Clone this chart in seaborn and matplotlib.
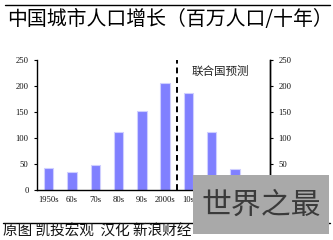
import matplotlib
matplotlib.use("Agg")
import matplotlib.pyplot as plt
import seaborn as sns
import pandas as pd
from matplotlib.patches import Rectangle
from matplotlib.lines import Line2D

decades = ["1950s", "60s", "70s", "80s", "90s", "2000s", "10s", "20s", "30s", "40s"]
growth = [42, 35, 48, 112, 152, 205, 186, 111, 41, 8]
yticks = [0, 50, 100, 150, 200, 250]
title = "中国城市人口增长（百万人口/十年）"
note = "联合国预测"
footer = "原图 凯投宏观  汉化 新浪财经"
watermark = "世界之最"

sns.set_theme(style="white")
plt.rcParams['font.family'] = ['Noto Sans CJK SC', 'DejaVu Sans']

df = pd.DataFrame({"decade": decades, "growth": growth})

fig = plt.figure(figsize=(3.33, 2.4), dpi=100)
ax = fig.add_axes([37/333, 50/240, (270-37)/333, 130/240])
sns.barplot(data=df, x="decade", y="growth", ax=ax, color="#8080FF",
            saturation=1, width=0.4, edgecolor="#CFCFFF", linewidth=0.8)
ax.set_ylim(0, 250)
ax.set_xlim(-0.5, len(decades) - 0.5)
ax.set_xlabel("")
ax.set_ylabel("")
tick_font = dict(family="Liberation Serif", fontsize=6.2, color="#111111")
ax.set_yticks(yticks)
ax.set_yticklabels([str(v) for v in yticks], **tick_font)
ax.set_xticks(range(len(decades)))
ax.set_xticklabels(decades, **tick_font)
ax.set_xticks([i + 0.5 for i in range(len(decades) - 1)], minor=True)
ax.tick_params(axis="x", which="major", length=0, pad=4)
ax.tick_params(axis="x", which="minor", length=2, width=0.8, direction="inout", color="black")
ax.tick_params(axis="y", which="major", length=2, width=0.8, direction="out", color="black", pad=4, left=True)
ax.spines["top"].set_visible(False)
for s in ["left", "bottom", "right"]:
    ax.spines[s].set_color("black")
    ax.spines[s].set_linewidth(1.0)

ax2 = ax.twinx()
ax2.set_ylim(0, 250)
ax2.set_yticks(yticks)
ax2.set_yticklabels([str(v) for v in yticks], **tick_font)
ax2.tick_params(axis="y", length=2, width=0.8, direction="out", color="black", pad=4, right=True)
for s in ["top", "left", "bottom"]:
    ax2.spines[s].set_visible(False)
ax2.spines["right"].set_color("black")
ax2.spines["right"].set_linewidth(1.0)
ax2.grid(False)

ax.axvline(5.5, color="black", linestyle=(0, (3, 2)), linewidth=1.4, ymin=0, ymax=1)
ax.text(7.35, 228, note, fontsize=8.3, ha="center", va="center", color="#222222")

fig.add_artist(Line2D([5/333, 330/333], [1 - 5/240, 1 - 5/240], color="black", linewidth=1.0))
fig.text(7/333, 1 - 20/240, title, fontsize=14.3, ha="left", va="center", color="black")
fig.add_artist(Line2D([3/333, 330/333], [1 - 223/240, 1 - 223/240], color="black", linewidth=1.0))
fig.text(3/333, 1 - 232/240, footer, fontsize=10.5, ha="left", va="center", style="italic", color="#111111")

fig.add_artist(Rectangle((193/333, 1 - 234/240), (329-193)/333, (234-175)/240,
                         transform=fig.transFigure, facecolor="#A9A9A9", edgecolor="none", zorder=10))
fig.text(261/333, 1 - 205/240, watermark, fontsize=21.5, ha="center", va="center", color="#3A3A3A", zorder=11)

fig.savefig("out.png", dpi=100)
